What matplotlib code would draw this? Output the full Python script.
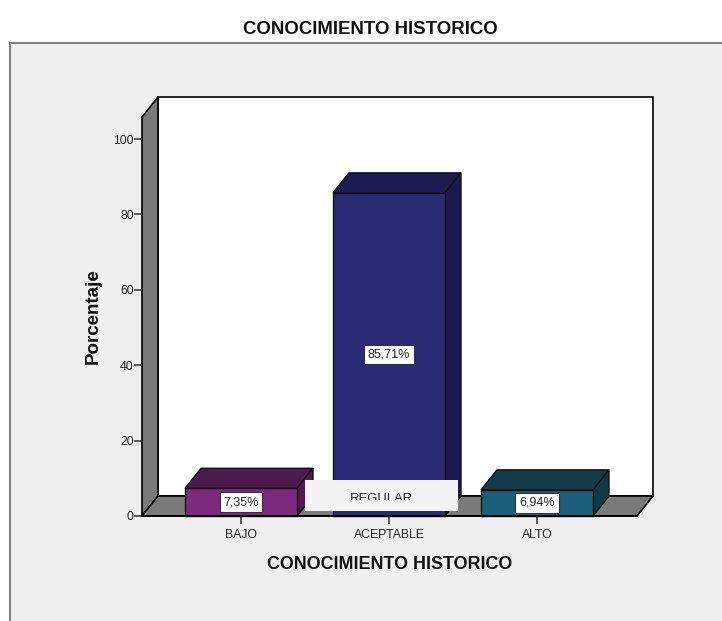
import matplotlib
matplotlib.use("Agg")
from matplotlib import pyplot as plt
from matplotlib.patches import Polygon, Rectangle
from matplotlib.transforms import Affine2D

plt.rcParams['font.family'] = ['Liberation Sans', 'DejaVu Sans']

categorias = ["BAJO", "ACEPTABLE", "ALTO"]
porcentajes = [7.35, 85.71, 6.94]
etiquetas = ["7,35%", "85,71%", "6,94%"]
colores = ["#7b2a7c", "#2a2a75", "#1b5f78"]
colores_top = ["#4e1a4e", "#1c1c52", "#123c4a"]
colores_lado = ["#521c52", "#1a1a4e", "#113a48"]
yticks = [0, 20, 40, 60, 80, 100]

W, H = 722, 621
PX_CAT = 148.0    # pixeles por categoria
PX_Y = 3.77       # pixeles por punto porcentual
DX = 16 / PX_CAT  # profundidad 3D
DY = 20 / PX_Y
ANCHO = 112 / PX_CAT
GRIS = "#7a7a7a"

fig = plt.figure(figsize=(W / 100, H / 100), dpi=100, facecolor="white")
px = Affine2D().scale(1, -1).translate(0, H)  # coordenadas en pixeles desde arriba

# panel de fondo
fig.add_artist(Rectangle((10, 43), 720, 590, transform=px, facecolor="#efefef",
                         edgecolor="#808080", linewidth=1.5, zorder=-1))
fig.text(370 / W, 1 - 30 / H, "CONOCIMIENTO HISTORICO", fontsize=13.4, fontweight="bold",
         ha="center", va="center", color="#111111")

# ejes: frente del cubo
izq, der, arriba, abajo = 142, 637, 117, 516
ax = fig.add_axes([izq / W, 1 - abajo / H, (der - izq) / W, (abajo - arriba) / H])
ax.patch.set_visible(False)
ax.set_xlim(1 + (izq - 241) / PX_CAT, 1 + (der - 241) / PX_CAT)
ax.set_ylim(0, (abajo - arriba) / PX_Y)
for s in ax.spines.values():
    s.set_visible(False)

x0, x1 = ax.get_xlim()
ymax = ax.get_ylim()[1]

# paredes y piso
ax.add_patch(Rectangle((x0 + DX, DY), x1 - x0, ymax, facecolor="white", edgecolor="black",
                       linewidth=1.2, clip_on=False, zorder=1))
ax.add_patch(Polygon([(x0, 0), (x0 + DX, DY), (x0 + DX, ymax + DY), (x0, ymax)], facecolor=GRIS,
                     edgecolor="black", linewidth=1.2, clip_on=False, zorder=1.1))
ax.add_patch(Polygon([(x0, 0), (x0 + DX, DY), (x1 + DX, DY), (x1, 0)], facecolor=GRIS,
                     edgecolor="black", linewidth=1.2, clip_on=False, zorder=1.1))

# barras
posiciones = [1, 2, 3]
for p, v, c, ct, cl in zip(posiciones, porcentajes, colores, colores_top, colores_lado):
    a, b = p - ANCHO / 2, p + ANCHO / 2
    ax.add_patch(Polygon([(a, v), (a + DX, v + DY), (b + DX, v + DY), (b, v)], facecolor=ct,
                         edgecolor="#111111", linewidth=1, clip_on=False, zorder=2))
    ax.add_patch(Polygon([(b, 0), (b + DX, DY), (b + DX, v + DY), (b, v)], facecolor=cl,
                         edgecolor="#111111", linewidth=1, clip_on=False, zorder=2))
ax.bar(posiciones, porcentajes, width=ANCHO, color=colores, edgecolor="#111111", linewidth=1,
       zorder=3, clip_on=False)

# etiquetas de valor
for p, v, t in zip(posiciones, porcentajes, etiquetas):
    ax.text(p, v / 2, t, fontsize=9, ha="center", va="center", color="#222222", zorder=4,
            bbox=dict(boxstyle="square,pad=0.3", facecolor="white", edgecolor="#333333", linewidth=0.8))

ax.set_xticks(posiciones, labels=categorias)
ax.set_yticks(yticks)
ax.tick_params(axis="both", length=6, width=1.1, color="#333333", labelsize=8.8, labelcolor="#222222")
ax.tick_params(axis="x", pad=3)
ax.tick_params(axis="y", pad=0)
ax.set_xlabel("CONOCIMIENTO HISTORICO", fontsize=12.9, fontweight="bold", color="#111111", labelpad=11)
ax.set_ylabel("Porcentaje", fontsize=13.5, fontweight="bold", color="#111111", labelpad=8)
ax.axhline(0, color="black", linewidth=1.2, zorder=3, clip_on=False)

# recuadro que tapa la etiqueta original
fig.add_artist(Rectangle((305, 480), 153, 31, transform=px, facecolor="#f3f3f3", edgecolor="none", zorder=10))
tapado = fig.text(381.5 / W, 1 - 499 / H, "REGULAR", fontsize=9.4, ha="center", va="center", color="#222222", zorder=11)
tapado.set_clip_path(Rectangle((340, 492), 90, 8, transform=px))
tapado.set_clip_on(True)

fig.savefig("out.png", dpi=100, facecolor="white")
